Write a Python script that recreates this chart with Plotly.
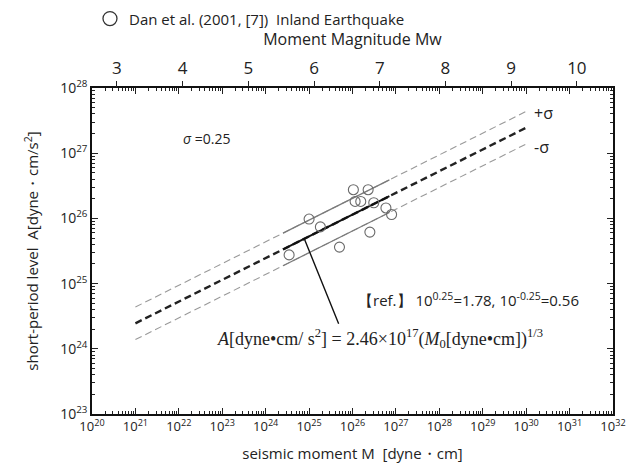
import numpy as np
import plotly.graph_objects as go

# ---- data ----
moment_log = [24.54, 25.00, 25.26, 25.70, 26.02, 26.36, 26.06, 26.19, 26.49, 26.40, 26.77, 26.90]
level_log = [25.44, 25.99, 25.87, 25.56, 26.44, 26.44, 26.26, 26.26, 26.24, 25.79, 26.16, 26.06]

coef = 2.46e17
exponent = 1.0 / 3.0
sigma = 0.25
line_range_log = [21.0, 30.0]      # dashed regression extent
data_range_log = [24.4, 26.85]     # solid segment extent

x_decades = list(range(20, 33))
y_decades = list(range(23, 29))
mw_ticks = [3, 4, 5, 6, 7, 8, 9, 10]

FONT = "Open Sans"

def regression(logm, shift=0.0):
    m = 10.0 ** np.asarray(logm, dtype=float)
    return coef * m ** exponent * 10.0 ** shift

fig = go.Figure()

xs_full = np.array(line_range_log, dtype=float)
xs_data = np.array(data_range_log, dtype=float)

for s in (sigma, -sigma):
    fig.add_trace(go.Scatter(x=10.0 ** xs_full, y=regression(xs_full, s), mode="lines",
                             line=dict(color="#999999", width=1.1, dash="7px,4px"),
                             showlegend=False, hoverinfo="skip"))
    fig.add_trace(go.Scatter(x=10.0 ** xs_data, y=regression(xs_data, s), mode="lines",
                             line=dict(color="#7a7a7a", width=1.2),
                             showlegend=False, hoverinfo="skip"))

fig.add_trace(go.Scatter(x=10.0 ** xs_full, y=regression(xs_full), mode="lines",
                         line=dict(color="#222222", width=2.4, dash="7px,4px"),
                         showlegend=False, hoverinfo="skip"))
fig.add_trace(go.Scatter(x=10.0 ** xs_data, y=regression(xs_data), mode="lines",
                         line=dict(color="#111111", width=2),
                         showlegend=False, hoverinfo="skip"))

fig.add_trace(go.Scatter(x=[10.0 ** v for v in moment_log], y=[10.0 ** v for v in level_log],
                         mode="markers",
                         marker=dict(symbol="circle-open", size=10, color="#6a6a6a",
                                     line=dict(width=1.1, color="#6a6a6a")),
                         showlegend=False))

# dummy trace on top magnitude axis
fig.add_trace(go.Scatter(x=[5.0], y=[1e25], xaxis="x2", mode="markers",
                         marker=dict(opacity=0), showlegend=False, hoverinfo="skip"))

minor_x = [float(k) * 10.0 ** n for n in range(20, 32) for k in range(2, 10)]
minor_y = [float(k) * 10.0 ** n for n in range(23, 28) for k in range(2, 10)]

fig.update_layout(
    width=638, height=475,
    margin=dict(l=84, r=33, t=80, b=69),
    paper_bgcolor="white", plot_bgcolor="white",
    font=dict(family=FONT, size=14, color="#222222"),
    xaxis=dict(type="log", range=[20, 32], tickmode="array",
               tickvals=[10.0 ** d for d in x_decades],
               ticktext=[f"10<sup>{d}</sup>" for d in x_decades],
               ticks="inside", ticklen=6, tickwidth=1, tickcolor="#222",
               minor=dict(tickmode="array", tickvals=minor_x, ticks="inside",
                          ticklen=3, tickcolor="#222", showgrid=False),
               showline=True, linecolor="#111", linewidth=1.6, mirror="ticks",
               showgrid=False, zeroline=False, automargin=False,
               ticklabeloverflow="allow",
               tickfont=dict(size=13),
               title=dict(text="seismic moment M  [dyne・cm]", font=dict(size=15), standoff=14)),
    xaxis2=dict(overlaying="x", side="top", range=[2.62, 10.55], tickmode="array",
                tickvals=mw_ticks, ticks="outside", ticklen=6, tickcolor="#222",
                showgrid=False, zeroline=False, showline=False, automargin=False,
                tickfont=dict(size=17),
                title=dict(text="Moment Magnitude Mw", font=dict(size=16), standoff=6)),
    yaxis=dict(type="log", range=[23, 28], tickmode="array",
               tickvals=[10.0 ** d for d in y_decades],
               ticktext=[f"10<sup>{d}</sup>" for d in y_decades],
               ticks="inside", ticklen=6, tickcolor="#222",
               minor=dict(tickmode="array", tickvals=minor_y, ticks="inside",
                          ticklen=3, tickcolor="#222", showgrid=False),
               showline=True, linecolor="#111", linewidth=1.6, mirror="ticks",
               showgrid=False, zeroline=False, automargin=False,
               tickfont=dict(size=14),
               title=dict(text="short-period level  A[dyne・cm/s<sup>2</sup>]",
                          font=dict(size=15), standoff=18)),
    showlegend=False,
)

# legend-like header
fig.add_shape(type="circle", xref="paper", yref="paper", xsizemode="pixel", ysizemode="pixel",
              xanchor=0.0345, yanchor=1.213, x0=-7, x1=7, y0=-7, y1=7,
              line=dict(color="#333", width=1.3))
fig.add_annotation(xref="paper", yref="paper", x=0.067, y=1.213, xanchor="left", yanchor="middle",
                   text="Dan et al. (2001, [7])  Inland Earthquake", showarrow=False,
                   font=dict(size=15))

fig.add_annotation(x=22.63, y=27.22, text="<i>σ</i> =0.25", showarrow=False, font=dict(size=14))
fig.add_annotation(x=30.41, y=27.61, text="+σ", showarrow=False, font=dict(size=16))
fig.add_annotation(x=30.36, y=27.10, text="-σ", showarrow=False, font=dict(size=16))
fig.add_annotation(x=28.67, y=24.76,
                   text="【ref.】 10<sup>0.25</sup>=1.78, 10<sup>-0.25</sup>=0.56",
                   showarrow=False, font=dict(size=15))

pointer_log = 24.89
fig.add_annotation(x=pointer_log, y=float(np.log10(regression(pointer_log))),
                   ax=25.695, ay=24.36, axref="x", ayref="y",
                   showarrow=True, arrowhead=0, arrowwidth=1.4, arrowcolor="#111", text="")
fig.add_annotation(x=26.64, y=24.16,
                   text="<i>A</i>[dyne•cm/ s<sup>2</sup>] = 2.46×10<sup>17</sup>(<i>M</i><sub>0</sub>[dyne•cm])<sup>1/3</sup>",
                   showarrow=False, font=dict(family="Liberation Serif", size=18))

fig.write_html("out.html")
